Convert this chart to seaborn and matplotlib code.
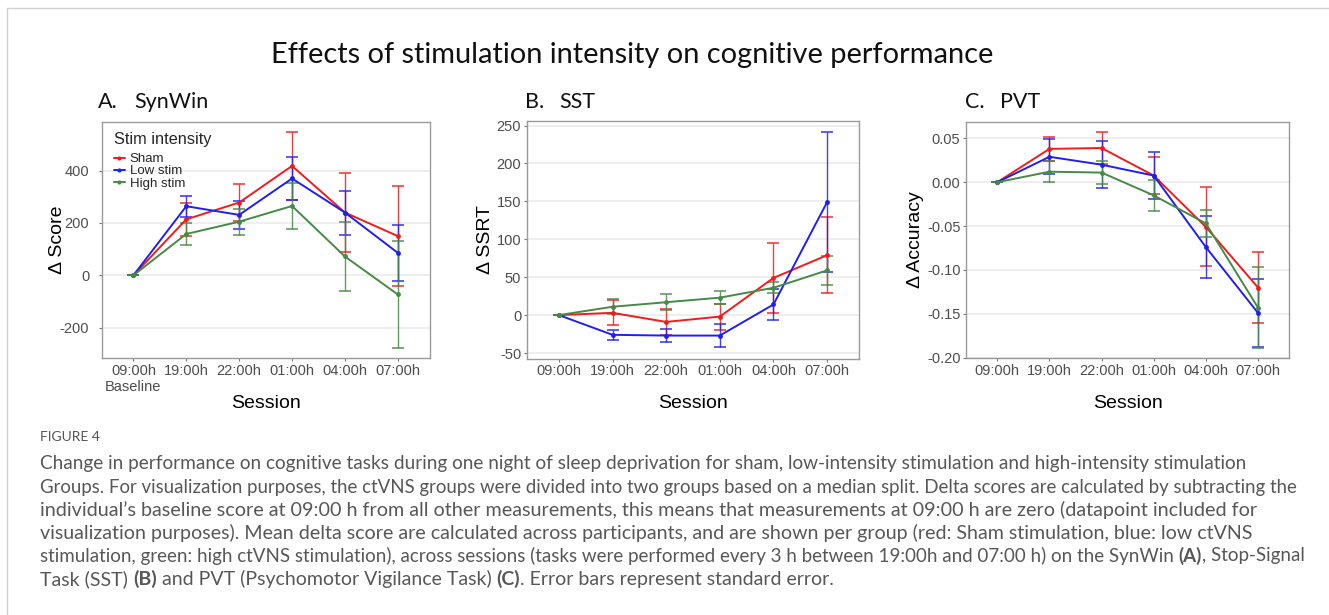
import matplotlib
matplotlib.use("Agg")
import numpy as np
import pandas as pd
import matplotlib.pyplot as plt
from matplotlib.lines import Line2D
from matplotlib.ticker import FormatStrFormatter
import seaborn as sns

# ---------------- data ----------------
sessions = ["09:00h", "19:00h", "22:00h", "01:00h", "04:00h", "07:00h"]
sessions_a = ["09:00h\nBaseline", "19:00h", "22:00h", "01:00h", "04:00h", "07:00h"]
groups = ["Sham", "Low stim", "High stim"]

synwin_sham = [0, 214, 278, 418, 240, 150]
synwin_sham_se = [0, 62, 70, 130, 152, 192]
synwin_low = [0, 264, 231, 370, 240, 86]
synwin_low_se = [0, 41, 54, 81, 84, 108]
synwin_high = [0, 158, 205, 265, 72, -73]
synwin_high_se = [0, 42, 49, 89, 131, 206]

sst_sham = [0, 3, -9, -2, 49, 79]
sst_sham_se = [0, 16.5, 17, 17, 46, 50]
sst_low = [0, -26, -27, -27, 14, 149]
sst_low_se = [0, 6.5, 9, 15.5, 21, 92]
sst_high = [0, 11, 17, 23, 36, 59]
sst_high_se = [0, 10, 10.5, 9, 7.5, 19]

pvt_sham = [0, 0.038, 0.039, 0.0076, -0.051, -0.120]
pvt_sham_se = [0, 0.014, 0.018, 0.021, 0.045, 0.040]
pvt_low = [0, 0.029, 0.020, 0.0076, -0.074, -0.149]
pvt_low_se = [0, 0.020, 0.027, 0.027, 0.035, 0.039]
pvt_high = [0, 0.012, 0.011, -0.015, -0.047, -0.143]
pvt_high_se = [0, 0.012, 0.013, 0.018, 0.015, 0.046]

synwin_yticks = [-200, 0, 200, 400]
sst_yticks = [-50, 0, 50, 100, 150, 200, 250]
pvt_yticks = [-0.20, -0.15, -0.10, -0.05, 0.00, 0.05]

suptitle = "Effects of stimulation intensity on cognitive performance"
figure_label = "FIGURE 4"
caption_lines = [
    [("Change in performance on cognitive tasks during one night of sleep deprivation for sham, low-intensity stimulation and high-intensity stimulation", False)],
    [("Groups. For visualization purposes, the ctVNS groups were divided into two groups based on a median split. Delta scores are calculated by subtracting the", False)],
    [("individual\u2019s baseline score at 09:00 h from all other measurements, this means that measurements at 09:00 h are zero (datapoint included for", False)],
    [("visualization purposes). Mean delta score are calculated across participants, and are shown per group (red: Sham stimulation, blue: low ctVNS", False)],
    [("stimulation, green: high ctVNS stimulation), across sessions (tasks were performed every 3 h between 19:00h and 07:00 h) on the SynWin", False),
     (" (A)", True), (", Stop-Signal", False)],
    [("Task (SST)", False), (" (B)", True), (" and PVT (Psychomotor Vigilance Task)", False), (" (C)", True),
     (". Error bars represent standard error.", False)],
]

# ---------------- style ----------------
sns.set_theme(style="white")
plt.rcParams["font.family"] = ["Liberation Sans", "DejaVu Sans"]
plt.rcParams["axes.unicode_minus"] = False

W, H = 1329, 615
fig = plt.figure(figsize=(W / 100, H / 100), dpi=100)
fig.patch.set_facecolor("white")
renderer = fig.canvas.get_renderer()

palette = {"Sham": "#f01c1c", "Low stim": "#1f1ff0", "High stim": "#468a46"}
title_font = ["Lato", "DejaVu Sans"]
cap_font = ["Lato", "DejaVu Sans"]


def fig_text(x, y, s, **kw):
    return fig.text(x / W, 1 - y / H, s, **kw)


def fit_width(t, target):
    w = t.get_window_extent(renderer).width
    t.set_fontsize(t.get_fontsize() * target / w)


def px_rect(l, t, r, b):
    return [l / W, 1 - b / H, (r - l) / W, (b - t) / H]


panels = [
    dict(rect=px_rect(101.7, 121.7, 429.5, 358.3),
         series=[(synwin_sham, synwin_sham_se), (synwin_low, synwin_low_se), (synwin_high, synwin_high_se)],
         ylim=(-317, 587), yticks=synwin_yticks, fmt="%d", ylabel="\u0394 Score", ylx=-0.135,
         xlabels=sessions_a, title=("A.", "SynWin"), tx=(98, 134), ypad=6.5),
    dict(rect=px_rect(526.7, 121.0, 859.3, 358.7),
         series=[(sst_sham, sst_sham_se), (sst_low, sst_low_se), (sst_high, sst_high_se)],
         ylim=(-57.5, 256), yticks=sst_yticks, fmt="%d", ylabel="\u0394 SSRT", ylx=-0.125,
         xlabels=sessions, title=("B.", "SST"), tx=(525, 559), ypad=1.5),
    dict(rect=px_rect(966, 121.7, 1289.3, 358.3),
         series=[(pvt_sham, pvt_sham_se), (pvt_low, pvt_low_se), (pvt_high, pvt_high_se)],
         ylim=(-0.2007, 0.069), yticks=pvt_yticks, fmt="%.2f", ylabel="\u0394 Accuracy", ylx=-0.155,
         xlabels=sessions, title=("C.", "PVT"), tx=(965, 1000), ypad=1.5),
]

pos = np.arange(len(sessions))

for i, p in enumerate(panels):
    ax = fig.add_axes(p["rect"])
    rows = []
    for g, (m, se) in zip(groups, p["series"]):
        for k in range(len(sessions)):
            rows.append({"pos": pos[k], "mean": m[k], "se": se[k], "group": g})
    df = pd.DataFrame(rows)

    sns.lineplot(data=df, x="pos", y="mean", hue="group", hue_order=groups, palette=palette,
                 marker="o", markersize=3.5, markeredgewidth=0, linewidth=1.4,
                 errorbar=None, legend=False, ax=ax, zorder=3)
    for g in groups:
        sub = df[df["group"] == g]
        ax.errorbar(sub["pos"], sub["mean"], yerr=sub["se"], fmt="none", ecolor=palette[g],
                    elinewidth=1.0, capsize=4, capthick=1.2, alpha=0.85, zorder=2)

    ax.set_xlim(-0.6, 5.6)
    ax.set_ylim(*p["ylim"])
    ax.set_xticks(pos)
    ax.set_xticklabels(p["xlabels"])
    ax.set_yticks(p["yticks"])
    ax.yaxis.set_major_formatter(FormatStrFormatter(p["fmt"]))
    ax.set_facecolor("white")
    ax.set_axisbelow(True)
    ax.yaxis.grid(True, color="#ebebeb", linewidth=1.2)
    ax.xaxis.grid(False)
    for sp in ax.spines.values():
        sp.set_visible(True)
        sp.set_color("#9a9a9a")
        sp.set_linewidth(1.0)
    ax.tick_params(axis="both", bottom=True, left=True, length=2.5, width=0.8, color="#777777",
                   labelcolor="#4d4d4d", labelsize=10.5, pad=1.5)
    ax.tick_params(axis="y", pad=p["ypad"])

    ax.set_ylabel(p["ylabel"], fontsize=14, color="black")
    ax.yaxis.label.set_va("center")
    ax.yaxis.set_label_coords(p["ylx"], 0.5)
    ax.set_xlabel("Session", fontsize=14, color="black")
    ax.xaxis.label.set_va("center")
    ax.xaxis.set_label_coords(0.5, -0.19)

    fig_text(p["tx"][0], 102, p["title"][0], fontsize=15.5, family=title_font, color="#111111",
             ha="left", va="center")
    fig_text(p["tx"][1], 102, p["title"][1], fontsize=15.5, family=title_font, color="#111111",
             ha="left", va="center")

    if i == 0:
        handles = [Line2D([], [], color=palette[g], lw=1.4, marker="o", markersize=3, markeredgewidth=0)
                   for g in groups]
        leg = ax.legend(handles, groups, title="Stim intensity", loc="upper left",
                        bbox_to_anchor=(0.0375, 0.955), frameon=False, borderpad=0, borderaxespad=0,
                        fontsize=9.5, title_fontsize=11.8, handlelength=0.8, handletextpad=0.4,
                        labelspacing=0.0, alignment="left")
        leg._legend_box.sep = 4

# ---------------- titles / caption ----------------
t = fig_text(632, 55, suptitle, fontsize=20, family=title_font, color="#111111", ha="center", va="center")
fit_width(t, 725)

# frame lines
fig.add_artist(Line2D([7 / W, 1], [1 - 8 / H, 1 - 8 / H], color="#cfcfcf", lw=1.0, transform=fig.transFigure))
fig.add_artist(Line2D([7 / W, 7 / W], [0, 1 - 8 / H], color="#cfcfcf", lw=1.0, transform=fig.transFigure))

fl = fig_text(40, 437, figure_label, fontsize=10, family=cap_font, color="#555555", ha="left", va="center")
fit_width(fl, 60)


def seg_width(text, size, bold):
    tt = fig.text(0, 0, text, fontsize=size, family=cap_font, fontweight="bold" if bold else "normal")
    w = tt.get_window_extent(renderer).width
    tt.remove()
    return w


def space_w(size):
    return seg_width("x x", size, False) - seg_width("xx", size, False)


def line_width(segs, size):
    total = 0
    for txt, b in segs:
        if txt.startswith(" "):
            total += space_w(size)
        total += seg_width(txt.strip(), size, b)
    return total


def draw_line(x, y, segs, size, color):
    cx = x
    sp = space_w(size)
    for txt, b in segs:
        if txt.startswith(" "):
            cx += sp
        tt = fig_text(cx, y, txt.strip(), fontsize=size, family=cap_font,
                      fontweight="bold" if b else "normal", color=color, ha="left", va="center")
        cx += tt.get_window_extent(renderer).width


line_targets = [1202, 1258, 1212, 1207, 1258, 787]
line_y = [464, 487, 510, 533, 556, 579]
base = 12.0
for segs, tw, yy in zip(caption_lines, line_targets, line_y):
    w0 = line_width(segs, base)
    size = base * tw / w0
    draw_line(40, yy, segs, size, "#575757")

fig.savefig("out.png", dpi=100, facecolor="white")
